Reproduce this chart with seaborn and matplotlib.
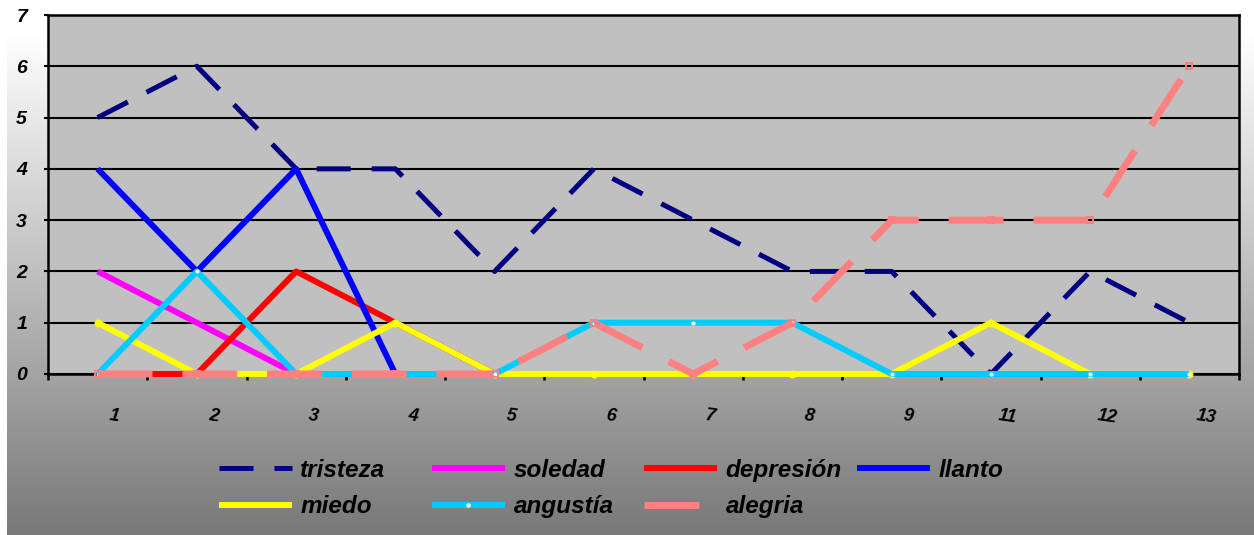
import matplotlib
matplotlib.use("Agg")
import matplotlib.pyplot as plt
import matplotlib.transforms as mtransforms
from matplotlib.lines import Line2D
import numpy as np
import pandas as pd
import seaborn as sns

# data
sessions = ["1", "2", "3", "4", "5", "6", "7", "8", "9", "11", "12", "13"]
tristeza = [5, 6, 4, 4, 2, 4, 3, 2, 2, 0, 2, 1]
soledad = [2, 1, 0, 0, 0, 0, 0, 0, 0, 0, 0, 0]
depresion = [0, 0, 2, 1, 0, 0, 0, 0, 0, 0, 0, 0]
llanto = [4, 2, 4, 0, 0, 0, 0, 0, 0, 0, 0, 0]
miedo = [1, 0, 0, 1, 0, 0, 0, 0, 0, 1, 0, 0]
angustia = [0, 2, 0, 0, 0, 1, 1, 1, 0, 0, 0, 0]
alegria = [0, 0, 0, 0, 0, 1, 0, 1, 3, 3, 3, 6]

names = ["tristeza", "soledad", "depresión", "llanto", "miedo", "angustía", "alegria"]
values = [tristeza, soledad, depresion, llanto, miedo, angustia, alegria]
colors = ["#000080", "#FF00FF", "#FF0000", "#0000FF", "#FFFF00", "#00CCFF", "#FF8080"]

df = pd.DataFrame({"pos": np.tile(np.arange(len(sessions)), len(names)),
                   "serie": np.repeat(names, len(sessions)),
                   "valor": np.concatenate(values)})

sns.set_theme(style="white")
plt.rcParams["font.family"] = ["Liberation Sans", "DejaVu Sans"]
plt.rcParams["text.color"] = "black"
plt.rcParams["xtick.color"] = "black"
plt.rcParams["ytick.color"] = "black"

fig = plt.figure(figsize=(12.54, 5.35), dpi=100)

# gradient background of the whole chart (white at top, grey at bottom)
bg = fig.add_axes([0, 0, 1, 1], zorder=-5)
rows = np.arange(535)
grad = np.clip(1.0 - (rows - 30) * 0.00105, 0.47, 1.0)
bg.imshow(grad[:, None], aspect="auto", cmap="gray", vmin=0, vmax=1,
          extent=[7 / 1254, 1, 0, 1])
bg.set_xlim(0, 1)
bg.set_ylim(0, 1)
bg.axis("off")

ax = fig.add_axes([48 / 1254, 1 - 374 / 535, (1239 - 48) / 1254, (374 - 15) / 535])
ax.set_facecolor("#C0C0C0")

styles = {
    "tristeza": dict(lw=3.6, dashes=(6.8, 4.2)),
    "soledad": dict(lw=4.3),
    "depresión": dict(lw=4.3),
    "llanto": dict(lw=4.3),
    "miedo": dict(lw=4.3, marker="o", ms=5, mfc="#FFFF00", mec="#FFFF00"),
    "angustía": dict(lw=4.3, marker="o", ms=2.2, mfc="white", mec="white"),
    "alegria": dict(lw=5.0, dashes=(7.9, 4.3), marker="s", ms=4,
                    mfc="none", mec="#FF8080", mew=1.4),
}

handles = {}
for name, color in zip(names, colors):
    sub = df[df["serie"] == name]
    st = dict(styles[name])
    dashes = st.pop("dashes", None)
    n_before = len(ax.lines)
    sns.lineplot(data=sub, x="pos", y="valor", ax=ax, color=color,
                 legend=False, zorder=3, **st)
    line = ax.lines[n_before]
    line.set_clip_on(False)
    line.set_solid_capstyle("butt")
    line.set_dash_capstyle("butt")
    if dashes is not None:
        line.set_dashes(dashes)
    # legend proxy: same line, no marker except angustía's white dot
    proxy = Line2D([], [], color=color, lw=st["lw"],
                   solid_capstyle="butt", dash_capstyle="butt")
    if dashes is not None:
        proxy.set_dashes(dashes)
    if name == "angustía":
        proxy.set_marker("o")
        proxy.set_markersize(2.2)
        proxy.set_markerfacecolor("white")
        proxy.set_markeredgecolor("white")
    handles[name] = proxy

ax.set_xlim(-0.5, len(sessions) - 0.5)
ax.set_ylim(0, 7)
ax.set_yticks(range(0, 8))
ax.yaxis.grid(True, color="black", lw=1.5)
ax.set_axisbelow(True)
for sp in ax.spines.values():
    sp.set_color("black")
    sp.set_linewidth(1.8)

ax.set_xticks(np.arange(len(sessions)))
ax.set_xticklabels(sessions, rotation=-8, fontsize=13, fontweight="bold",
                   fontstyle="italic")
ax.set_xticks(np.arange(-0.5, len(sessions), 1.0), minor=True)
ax.tick_params(axis="x", which="major", length=0, pad=24)
ax.tick_params(axis="x", which="minor", length=4, width=1.8, color="black",
               direction="out", bottom=True)
ax.tick_params(axis="y", length=3, width=1.5, color="black", left=True, pad=12,
               labelsize=14)
for lab in ax.get_yticklabels():
    lab.set_fontweight("bold")
    lab.set_fontstyle("italic")
shift = mtransforms.ScaledTranslation(0.17, 0, fig.dpi_scale_trans)
for lab in ax.get_xticklabels():
    lab.set_transform(lab.get_transform() + shift)
ax.set_xlabel("")
ax.set_ylabel("")

# legend: four columns laid out like the original
columns = [["tristeza", "miedo"], ["soledad", "angustía"],
           ["depresión", "alegria"], ["llanto"]]
col_x = [219, 432, 644, 857]
for cx, col in zip(col_x, columns):
    fig.legend([handles[n] for n in col], col, loc="upper left",
               bbox_to_anchor=(cx / 1254, 1 - 459 / 535),
               frameon=False, handlelength=3.0, handletextpad=0.35,
               labelspacing=0.55, borderpad=0.0, borderaxespad=0.0,
               prop=dict(family="Liberation Sans", size=17.5, weight="bold",
                         style="italic"))

fig.savefig("out.png", dpi=100)
